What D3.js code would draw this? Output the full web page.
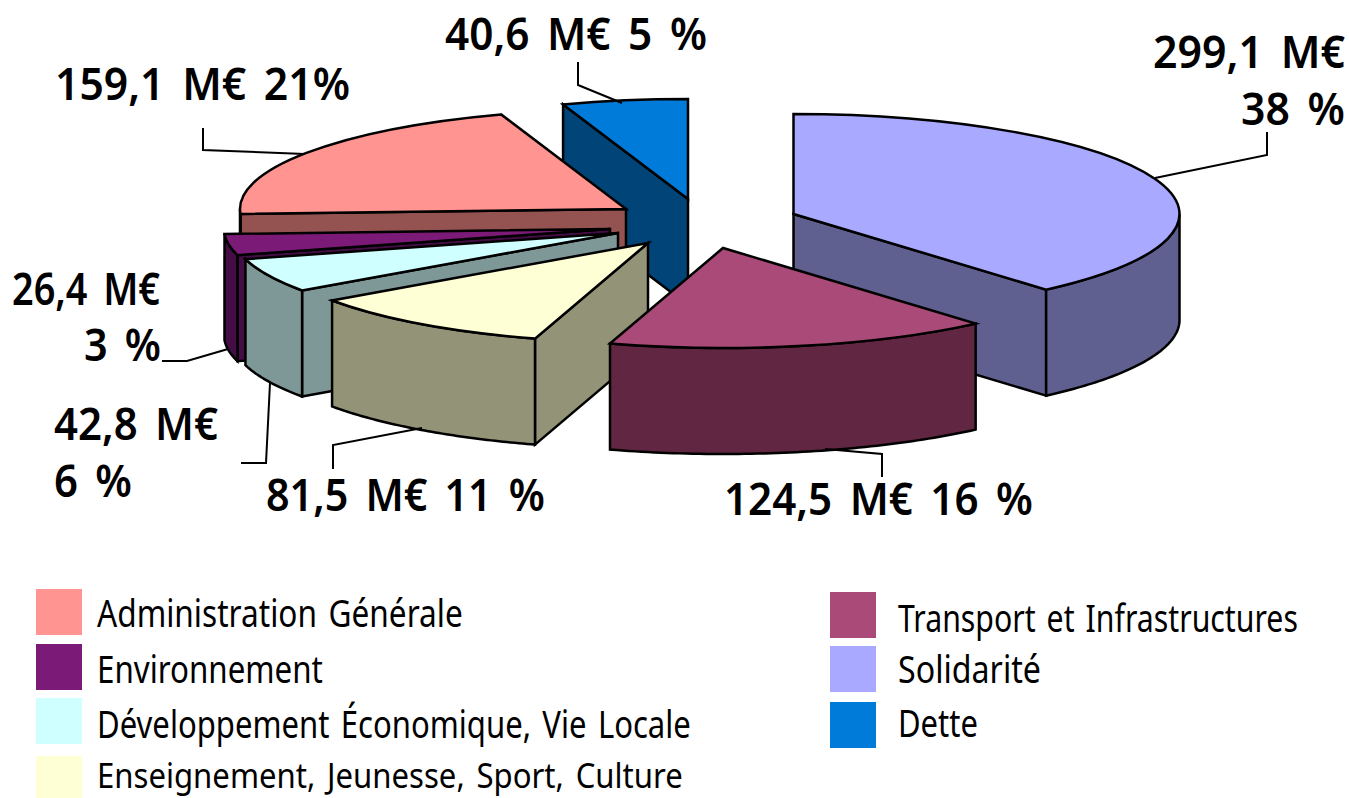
<!DOCTYPE html>
<html><head><meta charset="utf-8">
<style>html,body{margin:0;padding:0;background:#fff;overflow:hidden}svg{display:block}text{font-family:"Noto Sans",sans-serif;fill:#000}</style>
<script src="https://cdn.jsdelivr.net/npm/d3@7"></script></head><body>
<script>
// Data (clockwise from 12 o'clock)
const categories = ["Solidarité","Transport et Infrastructures","Enseignement, Jeunesse, Sport, Culture","Développement Économique, Vie Locale","Environnement","Administration Générale","Dette"];
const values = [299.1,124.5,81.5,42.8,26.4,159.1,40.6];
const topColors = ["#A9A9FF","#A94A78","#FFFFD6","#D0FFFF","#7C1A78","#FF9490","#007BD9"];
const sideColors = ["#5F5F90","#612642","#939377","#7E9898","#450D45","#945250","#004478"];
const legendLeft = [5,4,3,2];
const legendRight = [1,0,6];
// Layout
const W=1349,H=798;
const apexX=[793.5,723,648,618,610,626,688];
const apexY=[214,248,243,233,229,209,199];
const drawOrder=[6,5,4,3,2,0,1];
const rx=386, ry=100, depth=106;
const labels=[
 ["40,6 M€ 5 %",445,50,262],["299,1 M€",1153,68,192],["38 %",1241,125,104],
 ["159,1 M€ 21%",55,100,295],["26,4 M€",12,305,148],["3 %",84,361,77],
 ["42,8 M€",54,440,164],["6 %",54,497,78],["81,5 M€ 11 %",266,511,279],["124,5 M€ 16 %",724,515,309]];
const leaders=[
 [[578,62],[578,85],[622,103]],
 [[1267,132],[1267,155],[1155,178]],
 [[203,128],[203,150],[305,154]],
 [[162,361],[187,361],[228,349]],
 [[270,383],[266,463],[241,463]],
 [[333,469],[333,445],[422,428]],
 [[882,477],[882,454],[825,449]]];
const legendLeftY=[589,644,698,756], legendRightY=[592,646,702];
const legendLeftBase=[627,683,738,788], legendRightBase=[632,683,737];
const legendLeftW=[366,226,594,586], legendRightW=[400,143,80];
const legendLeftSize=[38,38,38,34], legendRightSize=[38,38,38];

const svg=d3.select("body").append("svg").attr("width",W).attr("height",H);
const sx=d3.scaleLinear().domain([-1,1]).range([-rx,rx]);
const sy=d3.scaleLinear().domain([-1,1]).range([-ry,ry]);
const arcs=d3.pie().sort(null).value(d=>d)(values);
const arcGen=d3.arc().innerRadius(0).outerRadius(rx);
const line=d3.line();
const pt=(i,t,dz)=>[apexX[i]+sx(Math.sin(t)),apexY[i]-sy(Math.cos(t))+dz];
const STROKE=2.5;

const pie=svg.append("g");
drawOrder.forEach(i=>{
  const a=arcs[i], g=pie.append("g").attr("stroke","#000").attr("stroke-width",STROKE).attr("stroke-linejoin","miter").attr("stroke-miterlimit",8);
  const ax=apexX[i], ay=apexY[i];
  const face=t=>{
    const p=pt(i,t,0),q=pt(i,t,depth);
    g.append("path").attr("d",line([[ax,ay],p,q,[ax,ay+depth]])+"Z").attr("fill",sideColors[i]);
  };
  if(Math.sin(a.startAngle)<-1e-6) face(a.startAngle);
  if(Math.sin(a.endAngle)>1e-6) face(a.endAngle);
  const t0=Math.max(a.startAngle,Math.PI/2), t1=Math.min(a.endAngle,3*Math.PI/2);
  if(t1>t0){
    const ts=d3.range(0,61).map(k=>t0+(t1-t0)*k/60);
    const pts=ts.map(t=>pt(i,t,0)).concat(ts.slice().reverse().map(t=>pt(i,t,depth)));
    g.append("path").attr("d",line(pts)+"Z").attr("fill",sideColors[i]);
  }
  g.append("path").attr("d",arcGen(a))
   .attr("transform",`translate(${ax},${ay}) scale(1,${ry/rx})`)
   .attr("vector-effect","non-scaling-stroke").attr("fill",topColors[i]);
});

svg.append("g").selectAll("path").data(leaders).join("path")
  .attr("d",d=>line(d)).attr("fill","none").attr("stroke","#000").attr("stroke-width",2);

// Fit each text to its measured width by horizontal scaling
function fit(sel,x,y,w){
  const n=sel.node().getComputedTextLength();
  sel.attr("transform",`translate(${x},${y}) scale(${w/n},1)`);
}
const labelG=svg.append("g");
labels.forEach(d=>{
  const t=labelG.append("text").text(d[0]).attr("font-size",45).attr("font-weight",600).attr("word-spacing",7);
  fit(t,d[1],d[2],d[3]);
});

const legend=svg.append("g");
const leg=(idx,x,tx,ys,bases,ws,sizes)=>idx.forEach((c,k)=>{
  legend.append("rect").attr("x",x).attr("y",ys[k]).attr("width",46).attr("height",46).attr("fill",topColors[c]);
  const t=legend.append("text").text(categories[c]).attr("font-size",sizes[k]).attr("word-spacing",4);
  fit(t,tx,bases[k],ws[k]);
});
leg(legendLeft,36,97,legendLeftY,legendLeftBase,legendLeftW,legendLeftSize);
leg(legendRight,830,898,legendRightY,legendRightBase,legendRightW,legendRightSize);
</script></body></html>
